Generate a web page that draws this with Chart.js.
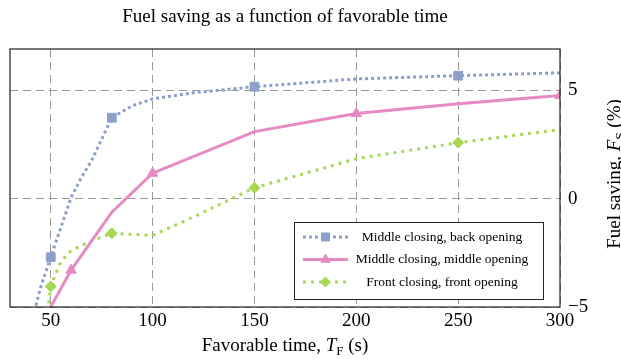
<!DOCTYPE html>
<html><head><meta charset="utf-8">
<script src="https://cdn.jsdelivr.net/npm/chart.js@4/dist/chart.umd.min.js"></script>
<style>html,body{margin:0;padding:0;background:#fff}#wrap{width:621px;height:359px}</style>
</head><body><div id="wrap"><canvas id="c" width="621" height="359"></canvas></div>
<script>
const titleText = 'Fuel saving as a function of favorable time';
const seriesNames = ['Middle closing, back opening', 'Middle closing, middle opening', 'Front closing, front opening'];
const xTicks = [50, 100, 150, 200, 250, 300];
const yTicks = [-5, 0, 5];

const blueX = [42, 45, 50, 55, 60, 65, 70, 80, 90, 100, 120, 150, 200, 250, 300];
const blueY = [-5.2, -4.1, -2.7, -1.33, 0.05, 0.97, 1.75, 3.73, 4.28, 4.6, 4.88, 5.16, 5.52, 5.67, 5.8];
const blueMarks = [50, 80, 150, 250];

const pinkX = [50, 60, 80, 100, 150, 200, 250, 300];
const pinkY = [-5.0, -3.3, -0.63, 1.17, 3.09, 3.92, 4.38, 4.75];
const pinkMarks = [60, 100, 200, 300];

const greenX = [48.5, 50, 55, 60, 70, 80, 90, 100, 120, 150, 200, 250, 300];
const greenY = [-5.2, -4.05, -2.9, -2.4, -1.95, -1.6, -1.65, -1.7, -0.85, 0.5, 1.84, 2.58, 3.18];
const greenMarks = [50, 80, 150, 250];

const SERIF = '"Liberation Serif", "DejaVu Serif", serif';
const colors = ['#8da0cb', '#e78ac3', '#a6d854'];
const styles = [
  {dash: [3, 3], width: 3, point: 'rect', radius: 6.2},
  {dash: [], width: 3, point: 'triangle', radius: 6},
  {dash: [3, 5], width: 3, point: 'rectRot', radius: 5.5}
];

function mk(xs, ys) { return xs.map((x, i) => ({x: x, y: ys[i]})); }
function ds(i, xs, ys, marks) {
  const st = styles[i];
  return {
    label: seriesNames[i],
    data: mk(xs, ys),
    borderColor: colors[i],
    backgroundColor: colors[i],
    borderWidth: st.width,
    borderDash: st.dash,
    borderCapStyle: 'butt',
    pointStyle: st.point,
    pointRadius: ctx => (ctx.raw && marks.includes(ctx.raw.x)) ? st.radius : 0,
    pointBorderWidth: 1,
    pointBackgroundColor: colors[i],
    pointBorderColor: colors[i],
    tension: 0,
    fill: false
  };
}

function drawMarker(ctx, style, color, r, x, y) {
  ctx.save();
  ctx.fillStyle = color; ctx.strokeStyle = color; ctx.lineWidth = 1; ctx.setLineDash([]);
  ctx.beginPath();
  if (style === 'rect') {
    const s = r * Math.SQRT1_2;
    ctx.rect(x - s, y - s, 2 * s, 2 * s);
  } else if (style === 'triangle') {
    const side = r * 3 / Math.sqrt(3), h = side * Math.sqrt(3) / 2;
    ctx.moveTo(x - side / 2, y + h / 3);
    ctx.lineTo(x + side / 2, y + h / 3);
    ctx.lineTo(x, y - 2 * h / 3);
    ctx.closePath();
  } else {
    ctx.moveTo(x, y - r); ctx.lineTo(x + r, y); ctx.lineTo(x, y + r); ctx.lineTo(x - r, y); ctx.closePath();
  }
  ctx.fill(); ctx.stroke();
  ctx.restore();
}

function drawSubText(ctx, parts, x, y, align) {
  const size = 19, subSize = 13;
  const fontFor = p => p === 's' ? `${subSize}px ${SERIF}` : (p === 'i' ? `italic ${size}px ${SERIF}` : `${size}px ${SERIF}`);
  let total = 0;
  parts.forEach(([t, p]) => { ctx.font = fontFor(p); total += ctx.measureText(t).width; });
  let cx = align === 'center' ? x - total / 2 : x;
  parts.forEach(([t, p]) => {
    ctx.font = fontFor(p);
    ctx.fillText(t, cx, p === 's' ? y + 4 : y);
    cx += ctx.measureText(t).width;
  });
}

const decor = {
  id: 'decor',
  afterDatasetsDraw(chart) {
    const ctx = chart.ctx, a = chart.chartArea;
    ctx.save();
    ctx.strokeStyle = '#222'; ctx.lineWidth = 1.2; ctx.setLineDash([]);
    ctx.strokeRect(a.left, a.top, a.right - a.left, a.bottom - a.top);
    const lx = 294, ly = 222, lw = 249, lh = 77;
    ctx.fillStyle = '#fff'; ctx.fillRect(lx, ly, lw, lh);
    ctx.strokeStyle = '#222'; ctx.lineWidth = 1; ctx.strokeRect(lx + 0.5, ly + 0.5, lw, lh);
    const rows = [237, 259.5, 282];
    rows.forEach((ry, i) => {
      const st = styles[i];
      ctx.save();
      ctx.strokeStyle = colors[i]; ctx.lineWidth = st.width; ctx.setLineDash(st.dash); ctx.lineCap = 'butt';
      ctx.beginPath(); ctx.moveTo(303, ry); ctx.lineTo(348, ry); ctx.stroke();
      ctx.restore();
      drawMarker(ctx, st.point, colors[i], st.radius - 0.5, 325.5, ry);
      ctx.fillStyle = '#000'; ctx.font = `13.5px ${SERIF}`; ctx.textAlign = 'center'; ctx.textBaseline = 'middle';
      ctx.fillText(seriesNames[i], 442, ry);
    });
    ctx.restore();
  },
  afterDraw(chart) {
    const ctx = chart.ctx, a = chart.chartArea;
    ctx.save();
    ctx.fillStyle = '#000'; ctx.textBaseline = 'alphabetic'; ctx.textAlign = 'left';
    ctx.font = `19px ${SERIF}`;
    const tw = ctx.measureText(titleText).width;
    ctx.fillText(titleText, (a.left + a.right) / 2 - tw / 2, 22);
    drawSubText(ctx, [['Favorable time, ', 'n'], ['T', 'i'], ['F', 's'], [' (s)', 'n']], (a.left + a.right) / 2, 351, 'center');
    ctx.save();
    ctx.translate(620, 174);
    ctx.rotate(-Math.PI / 2);
    drawSubText(ctx, [['Fuel saving, ', 'n'], ['F', 'i'], ['S', 's'], [' (%)', 'n']], 0, 0, 'center');
    ctx.restore();
    ctx.restore();
  }
};

const tickFont = {family: SERIF, size: 19};
new Chart(document.getElementById('c'), {
  type: 'line',
  data: {datasets: [ds(0, blueX, blueY, blueMarks), ds(1, pinkX, pinkY, pinkMarks), ds(2, greenX, greenY, greenMarks)]},
  options: {
    responsive: false, devicePixelRatio: 1, animation: false,
    layout: {padding: {left: 10, top: 49, right: 0, bottom: 0}},
    plugins: {legend: {display: false}, title: {display: false}, tooltip: {enabled: false}},
    scales: {
      x: {
        type: 'linear', position: 'bottom', min: 30, max: 300,
        afterBuildTicks: s => { s.ticks = xTicks.map(v => ({value: v})); },
        afterFit: s => { s.height = 52; },
        grid: {color: '#9a9a9a', lineWidth: 1, drawTicks: false},
        border: {display: false, dash: [8, 5]},
        ticks: {font: tickFont, color: '#000', padding: 3, maxRotation: 0, autoSkip: false}
      },
      y: {
        type: 'linear', position: 'right', min: -5, max: 6.9,
        afterBuildTicks: s => { s.ticks = yTicks.map(v => ({value: v})); },
        afterFit: s => { s.width = 61; },
        grid: {color: '#9a9a9a', lineWidth: 1, drawTicks: false},
        border: {display: false, dash: [8, 5]},
        ticks: {font: tickFont, color: '#000', padding: 8, autoSkip: false,
          callback: v => v < 0 ? '\u2212' + Math.abs(v) : '' + v}
      }
    }
  },
  plugins: [decor]
});
</script></body></html>
